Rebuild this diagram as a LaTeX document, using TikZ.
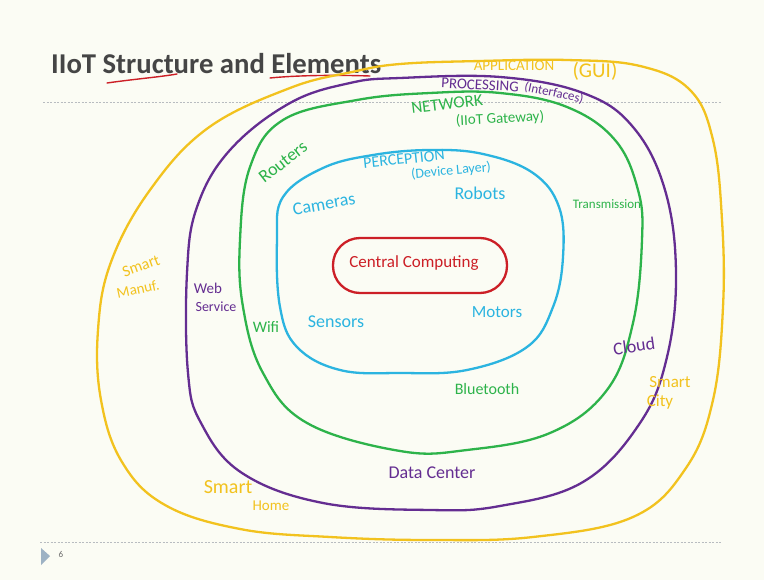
\documentclass[tikz,border=0pt]{standalone}
\usepackage{fontspec}
\setmainfont{Carlito}
\definecolor{pageBg}{HTML}{FBFCF4}
\definecolor{titleGray}{HTML}{454545}
\definecolor{appYellow}{HTML}{F2C21E}
\definecolor{procPurple}{HTML}{642D91}
\definecolor{netGreen}{HTML}{2DB34A}
\definecolor{percCyan}{HTML}{2BB4E0}
\definecolor{coreRed}{HTML}{CC1F26}
\definecolor{ruleGray}{HTML}{B8BCC0}
\definecolor{markBlue}{HTML}{9DB2C4}
\newcommand{\hfs}[1]{\fontsize{#1}{#1}\selectfont}
\begin{document}
\begin{tikzpicture}[x=1pt,y=-1pt,
  ring/.style={line width=2.3pt,line join=round},
  lbl/.style={inner sep=0pt,anchor=center},
  sep/.style={ruleGray,line width=0.6pt,dash pattern=on 2pt off 1.5pt}]
\useasboundingbox[fill=pageBg] (0,0) rectangle (764,580);

% title and slide furniture
\node[lbl,anchor=base west,text=titleGray,font=\bfseries\hfs{28.7}] (title) at (51,74) {IIoT Structure and Elements};
\draw[coreRed,line width=1.4pt,line cap=round] (107,83) .. controls (135,79) and (160,77) .. (177,74);
\draw[coreRed,line width=1.4pt,line cap=round] (270,78) .. controls (300,75) and (340,75) .. (370,76);
\draw[sep] (43,102) -- (722,102);
\draw[sep] (40,542) -- (722,542);
\fill[markBlue] (41,548) -- (50,556) -- (41,565) -- cycle;
\node[lbl,text=titleGray!80,font=\hfs{9}] (pagenum) at (61,554) {6};

% application ring
\draw[ring,appYellow] plot[smooth cycle,tension=0.65] coordinates {
  (400,64) (480,61) (567,60) (640,66) (690,90) (713,140) (722,220) (723,307)
  (713,400) (686,468) (633,517) (533,537) (430,540) (330,537) (240,529)
  (165,505) (122,462) (101,400) (98,330) (111,262) (150,190) (208,128)
  (290,88) (352,72)};
% processing ring
\draw[ring,procPurple] plot[smooth cycle,tension=0.65] coordinates {
  (350,83) (400,78) (500,77) (583,93) (633,127) (665,190) (676,273) (667,357)
  (640,423) (583,482) (500,506) (430,510) (323,503) (242,473) (201,423)
  (188,373) (187,273) (197,207) (230,150) (290,103)};
% network ring
\draw[ring,netGreen] plot[smooth cycle,tension=0.65] coordinates {
  (283,120) (357,100) (430,93) (500,93) (567,107) (615,140) (638,190) (642,240)
  (633,323) (607,390) (550,433) (467,450) (400,451) (307,423) (263,373)
  (243,307) (240,240) (250,167)};
% perception ring
\draw[ring,percCyan] plot[smooth cycle,tension=0.65] coordinates {
  (283,197) (323,168) (373,155) (430,150) (483,154) (533,173) (559,207)
  (563,257) (553,307) (527,347) (467,370) (400,373) (340,370) (297,347)
  (280,307) (277,240)};
% core
\draw[ring,coreRed] (333,238) [rounded corners=27pt] rectangle (507,293);

% ring titles
\node[lbl,text=appYellow,font=\hfs{15}] (app) at (514,66) {APPLICATION};
\node[lbl,text=appYellow,font=\hfs{21}] (gui) at (595,71) {(GUI)};
\node[lbl,text=procPurple,font=\hfs{15},rotate=-3] (proc) at (480,85) {PROCESSING};
\node[lbl,text=procPurple,font=\hfs{13},rotate=-12] (iface) at (554,93) {(Interfaces)};
\node[lbl,text=netGreen,font=\hfs{17},rotate=7] (net) at (447,104) {NETWORK};
\node[lbl,text=netGreen,font=\hfs{15},rotate=3] (gw) at (500,119) {(IIoT Gateway)};
\node[lbl,text=percCyan,font=\hfs{16},rotate=6] (perc) at (404,159) {PERCEPTION};
\node[lbl,text=percCyan,font=\hfs{14},rotate=5] (dev) at (451,171) {(Device Layer)};

% element labels
\node[lbl,text=coreRed,font=\hfs{17}] (core) at (414,263) {Central Computing};
\node[lbl,text=percCyan,font=\hfs{18},rotate=10] (cam) at (324,204) {Cameras};
\node[lbl,text=percCyan,font=\hfs{18}] (rob) at (480,193) {Robots};
\node[lbl,text=percCyan,font=\hfs{18}] (sen) at (336,322) {Sensors};
\node[lbl,text=percCyan,font=\hfs{17}] (mot) at (497,312) {Motors};
\node[lbl,text=netGreen,font=\hfs{18},rotate=38] (rout) at (283,162) {Routers};
\node[lbl,text=netGreen,font=\hfs{13}] (trans) at (607,204) {Transmission};
\node[lbl,text=netGreen,font=\hfs{16}] (wifi) at (266,327) {Wifi};
\node[lbl,text=netGreen,font=\hfs{16}] (blue) at (487,389) {Bluetooth};
\node[lbl,text=procPurple,font=\hfs{15}] (web) at (208,288) {Web};
\node[lbl,text=procPurple,font=\hfs{14}] (serv) at (216,307) {Service};
\node[lbl,text=procPurple,font=\hfs{18},rotate=8] (cloud) at (634,346) {Cloud};
\node[lbl,text=procPurple,font=\hfs{18}] (dc) at (432,473) {Data Center};
\node[lbl,text=appYellow,font=\hfs{16},rotate=20] (sm1) at (141,266) {Smart};
\node[lbl,text=appYellow,font=\hfs{15},rotate=12] (manuf) at (138,289) {Manuf.};
\node[lbl,text=appYellow,font=\hfs{17}] (sc1) at (670,382) {Smart};
\node[lbl,text=appYellow,font=\hfs{17}] (sc2) at (660,402) {City};
\node[lbl,text=appYellow,font=\hfs{20}] (sh1) at (228,487) {Smart};
\node[lbl,text=appYellow,font=\hfs{15}] (sh2) at (271,506) {Home};
\end{tikzpicture}
\end{document}
